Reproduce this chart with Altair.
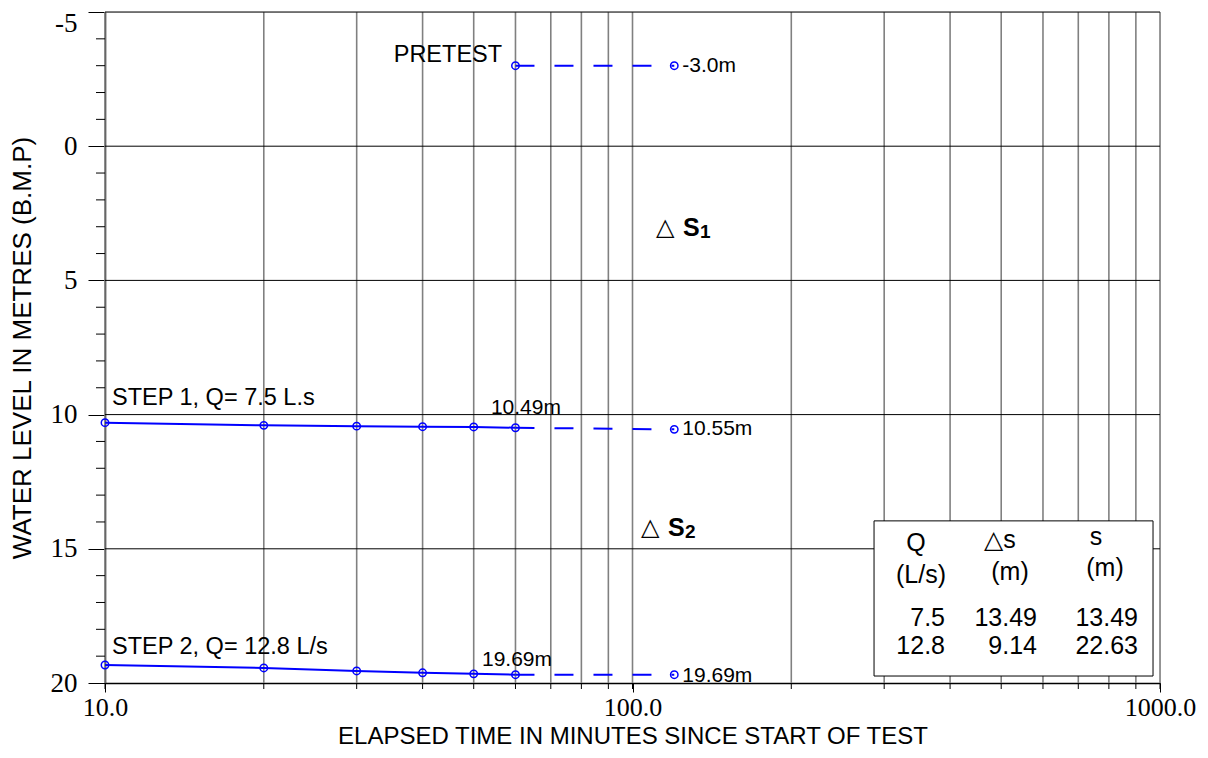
import altair as alt
import pandas as pd

# ---------------- data ----------------
x_title = "ELAPSED TIME IN MINUTES SINCE START OF TEST"
y_title = "WATER LEVEL IN METRES (B.M.P)"

step1_time = [10, 20, 30, 40, 50, 60]
step1_level = [10.30, 10.40, 10.43, 10.45, 10.46, 10.49]
step2_time = [10, 20, 30, 40, 50, 60]
step2_level = [19.33, 19.44, 19.55, 19.62, 19.66, 19.69]

pretest_time = [60, 120]
pretest_level = [-3.0, -3.0]
rec1_time = [60, 120]
rec1_level = [10.49, 10.55]
rec2_time = [60, 120]
rec2_level = [19.69, 19.69]

x_grid = [10, 20, 30, 40, 50, 60, 70, 80, 90, 100,
          200, 300, 400, 500, 600, 700, 800, 900, 1000]
x_major = [10, 100, 1000]
y_major = [-5, 0, 5, 10, 15, 20]
y_grid = [0, 5, 10, 15]
y_border = [-5]
y_minor = [-4, -3, -2, -1, 1, 2, 3, 4, 6, 7, 8, 9, 11, 12, 13, 14, 16, 17, 18, 19]

table_q = ["7.5", "12.8"]
table_ds = ["13.49", "9.14"]
table_s = ["13.49", "22.63"]

W, H = 1055, 671
SANS = "Liberation Sans"
SERIF = "Liberation Serif"
BLUE = "#0000ff"

xs = alt.Scale(type="log", domain=[10, 1000], nice=False)
ys = alt.Scale(domain=[-5, 20], reverse=True, nice=False, zero=False)

xaxis = alt.Axis(
    values=x_major, labelExpr="format(datum.value, '.1f')", grid=False,
    tickSize=9, tickColor="black", tickWidth=1, domainColor="black", domainWidth=1.5,
    labelFont=SERIF, labelFontSize=26, labelColor="black", labelPadding=2,
    labelFlush=False, labelOverlap=False, labelBound=False,
    title=x_title, titleFont=SANS, titleFontSize=24, titleFontWeight="normal",
    titleColor="black", titleY=53, titleBaseline="middle")
yaxis = alt.Axis(
    values=y_major, labelExpr="datum.value + ''", grid=False,
    tickSize=17, tickColor="black", tickWidth=1, domainColor="black", domainWidth=1.5,
    labelFont=SERIF, labelFontSize=27, labelColor="black", labelPadding=11,
    labelFlush=False, labelOverlap=False, labelBound=False, labelBaseline="middle",
    labelOffset={"condition": {"test": "datum.value === -5", "value": 11}, "value": 0},
    title=y_title, titleFont=SANS, titleFontSize=26, titleFontWeight="normal",
    titleColor="black", titleX=-83, titleBaseline="middle")

X = lambda f: alt.X(f, type="quantitative", scale=xs, axis=xaxis)
Y = lambda f: alt.Y(f, type="quantitative", scale=ys, axis=yaxis)

# ---------------- grid / ticks ----------------
xgrid = alt.Chart(pd.DataFrame({"t": x_grid})).mark_rule(
    color="#808080", strokeWidth=1.6).encode(x=X("t"), y=alt.value(0), y2=alt.value(H))
xminor = alt.Chart(pd.DataFrame({"t": x_grid})).mark_rule(
    color="#000000", strokeWidth=1).encode(x=X("t"), y=alt.value(H), y2=alt.value(H + 6))
ygrid = alt.Chart(pd.DataFrame({"lvl": y_grid + y_border})).mark_rule(
    color="#000000", strokeWidth=1).encode(y=Y("lvl"))
yminor = alt.Chart(pd.DataFrame({"lvl": y_minor})).mark_rule(
    color="#000000", strokeWidth=1).encode(y=Y("lvl"), x=alt.value(-9), x2=alt.value(0))

# ---------------- series ----------------
def solid(times, levels):
    df = pd.DataFrame({"t": times, "lvl": levels})
    return alt.Chart(df).mark_line(color=BLUE, strokeWidth=2).encode(x=X("t"), y=Y("lvl"))

def dashed(times, levels):
    df = pd.DataFrame({"t": times, "lvl": levels})
    return alt.Chart(df).mark_line(color=BLUE, strokeWidth=2, strokeDash=[19, 20]).encode(
        x=X("t"), y=Y("lvl"))

def pts(times, levels):
    df = pd.DataFrame({"t": times, "lvl": levels})
    return alt.Chart(df).mark_point(shape="circle", filled=False, color=BLUE, size=55,
                                    strokeWidth=1.5, opacity=1).encode(x=X("t"), y=Y("lvl"))

series = [
    dashed(pretest_time, pretest_level), pts(pretest_time, pretest_level),
    dashed(rec1_time, rec1_level), solid(step1_time, step1_level), pts(step1_time, step1_level),
    pts(rec1_time[1:], rec1_level[1:]),
    dashed(rec2_time, rec2_level), solid(step2_time, step2_level), pts(step2_time, step2_level),
    pts(rec2_time[1:], rec2_level[1:]),
]

# ---------------- annotations ----------------
def txt(rows, align="left", size=22, weight="normal", dx=0, dy=0, font=SANS):
    df = pd.DataFrame(rows, columns=["t", "lvl", "label"])
    return alt.Chart(df).mark_text(align=align, baseline="middle", font=font, fontSize=size,
                                   fontWeight=weight, color="black", dx=dx, dy=dy).encode(
        x=X("t"), y=Y("lvl"), text="label:N")

ann = [
    txt([(56.6, -3.40, "PRETEST")], align="right", size=23.5),
    txt([(10, 9.38, "STEP 1, Q= 7.5 L.s"), (10, 18.66, "STEP 2, Q= 12.8 L/s")], size=23.5, dx=7),
    txt([(pretest_time[1], pretest_level[1], "-3.0m"),
         (rec1_time[1], rec1_level[1], "10.55m"),
         (rec2_time[1], rec2_level[1] + 0.05, "19.69m")], size=21, dx=8),
    txt([(62.8, 9.75, "10.49m"), (60.4, 19.14, "19.69m")], align="center", size=21),
    txt([(110.8, 3.05, "△"), (103.8, 14.23, "△")], size=24),
    txt([(124.7, 3.05, "S"), (116.8, 14.23, "S")], size=25, weight="bold"),
    txt([(124.7, 3.05, "1"), (116.8, 14.23, "2")], size=19, weight="bold", dx=17, dy=4),
]

# table box
box = alt.Chart(pd.DataFrame({"t": [287.0], "t2": [970.0], "lvl": [13.96], "lvl2": [19.74]})).mark_rect(
    fill="white", stroke="black", strokeWidth=1).encode(
    x=X("t"), x2="t2", y=Y("lvl"), y2="lvl2")

table_head = txt([(344.7, 14.78, "Q"), (352.3, 15.98, "(L/s)"),
                  (497.5, 14.67, "△s"), (519.6, 15.86, "(m)"),
                  (756.4, 14.56, "s"), (786.6, 15.72, "(m)")], align="center", size=25)
rows_y = [17.58, 18.62]
table_vals = txt([(391.2, rows_y[i], table_q[i]) for i in range(2)] +
                 [(584.6, rows_y[i], table_ds[i]) for i in range(2)] +
                 [(908.5, rows_y[i], table_s[i]) for i in range(2)], align="right", size=25)

chart = alt.layer(
    xgrid, ygrid, xminor, yminor, *series, *ann, box, table_head, table_vals
).properties(
    width=W, height=H,
    autosize=alt.AutoSizeParams(type="none"),
    padding={"left": 97, "top": 4, "right": 40, "bottom": 67},
).configure_view(stroke=None).configure(background="white")

chart.save("out.html", embed_options={"renderer": "svg", "actions": False})
